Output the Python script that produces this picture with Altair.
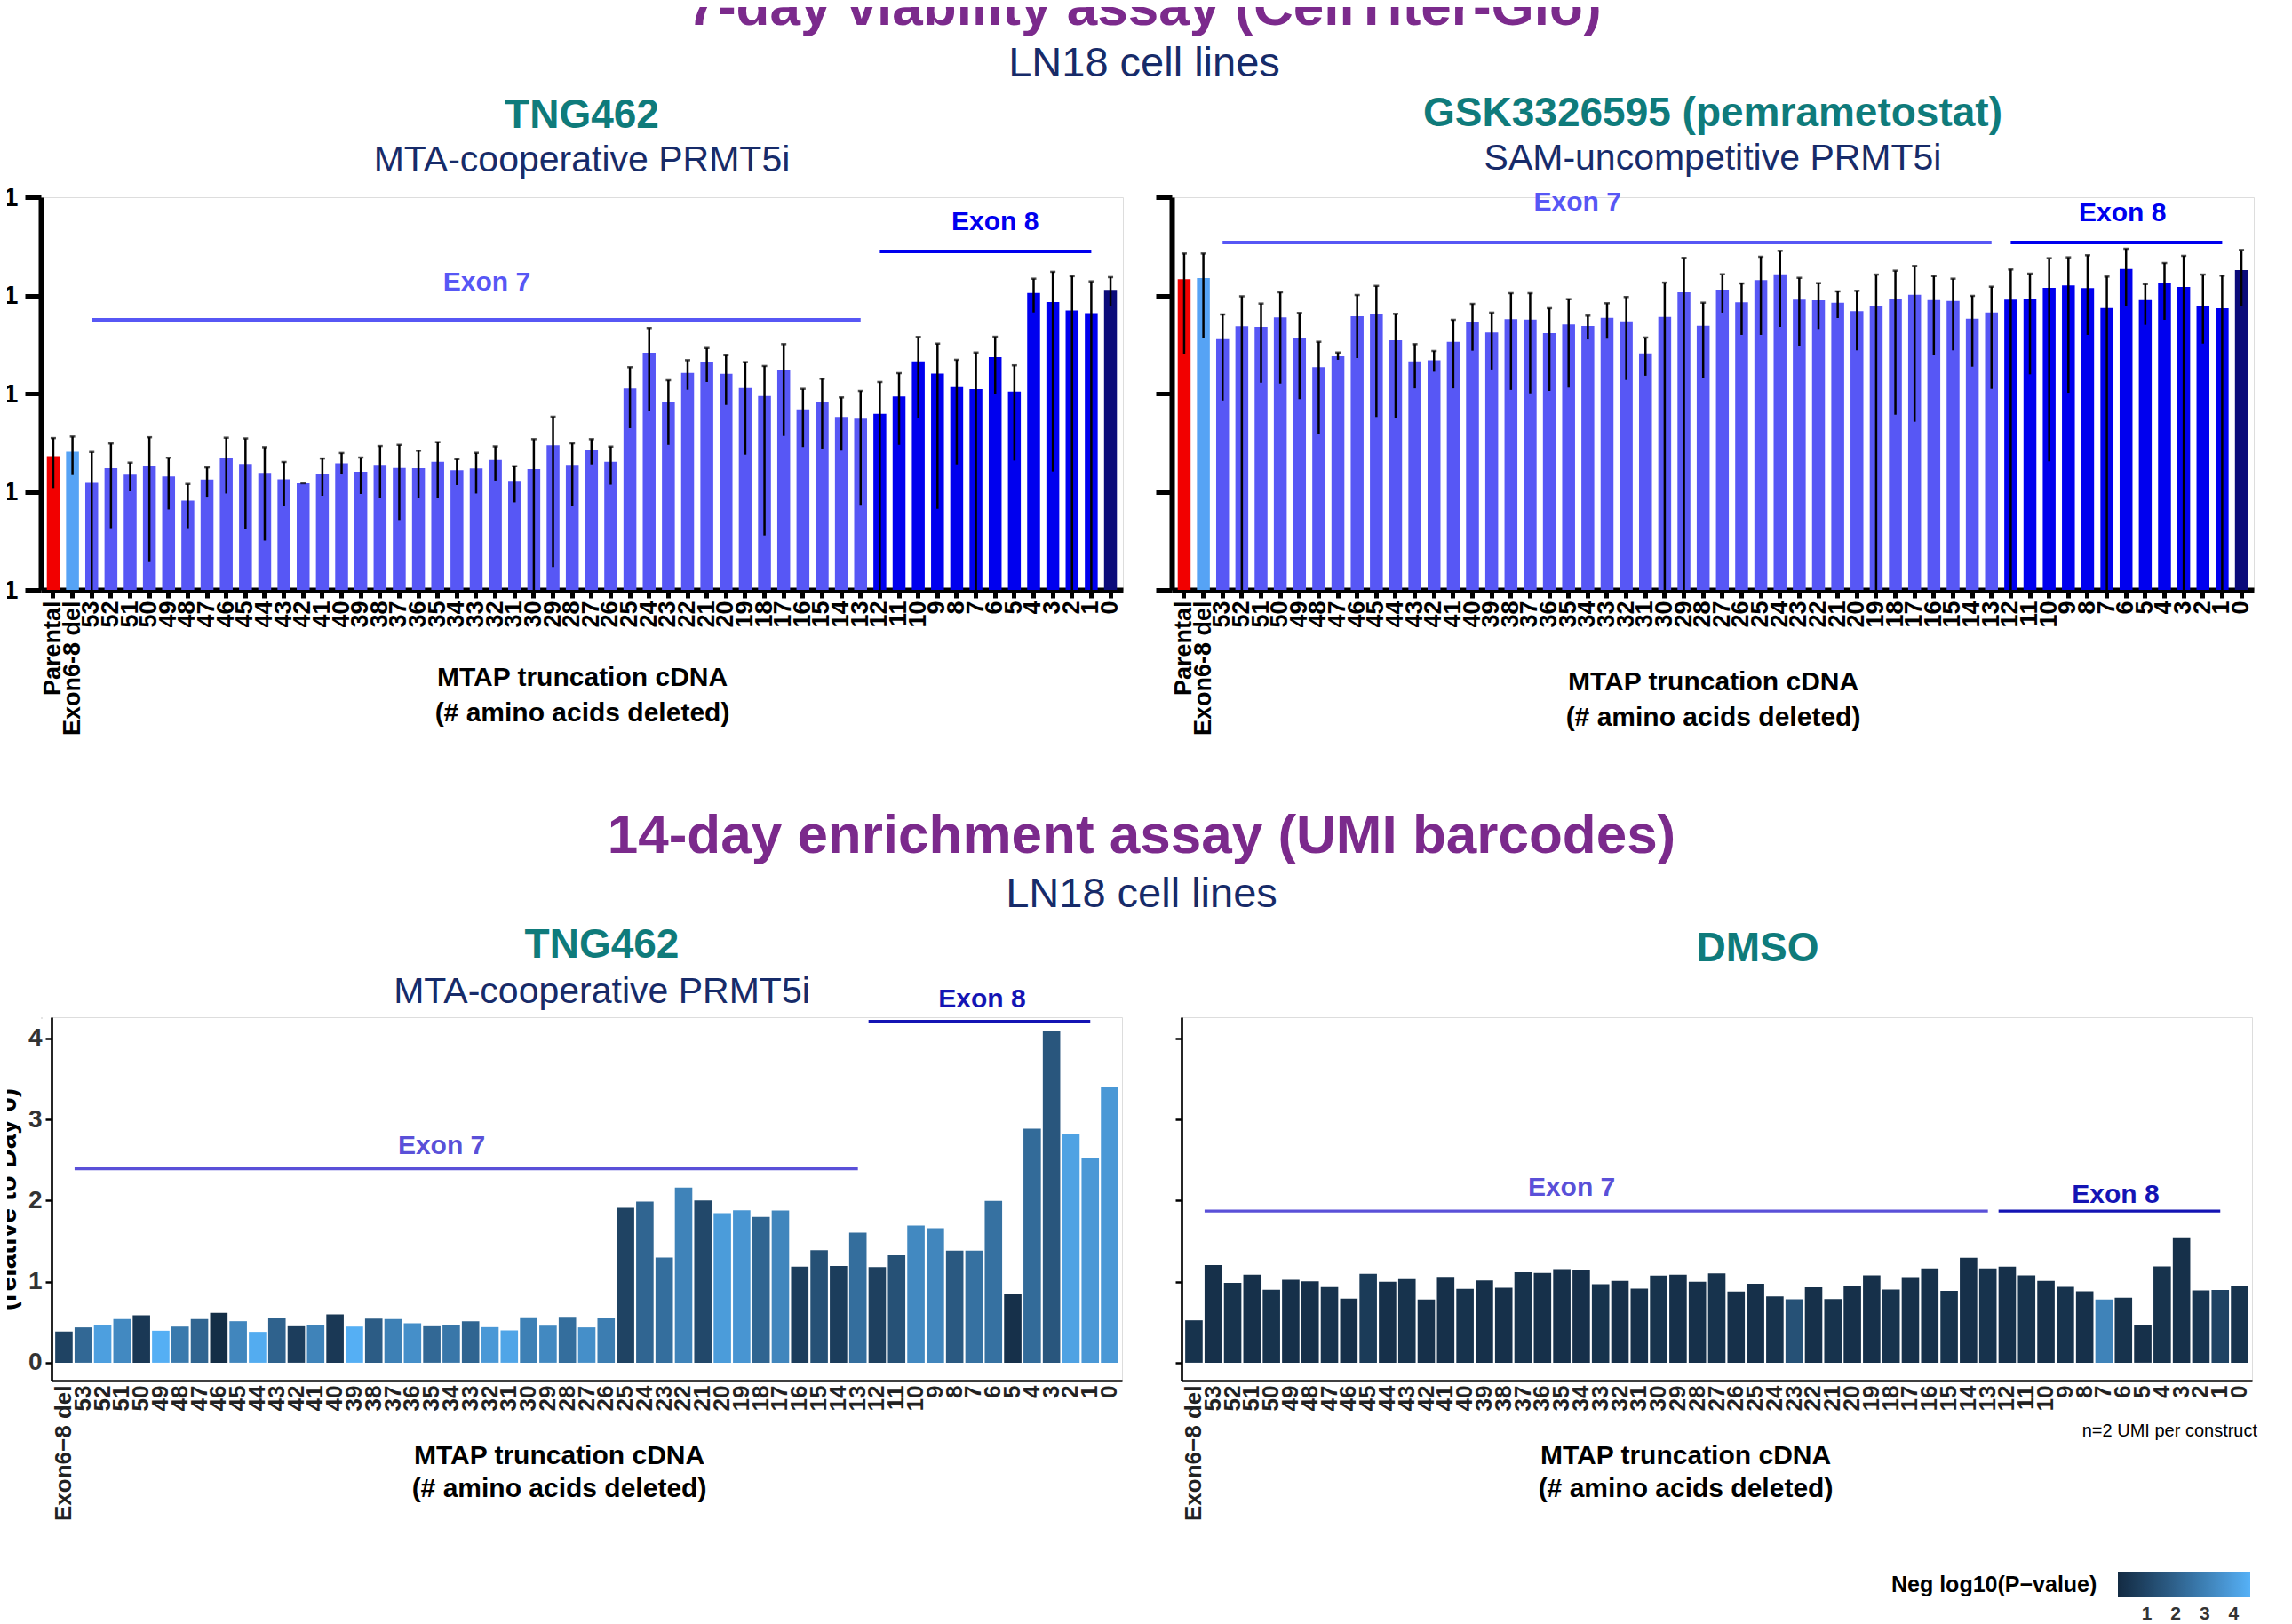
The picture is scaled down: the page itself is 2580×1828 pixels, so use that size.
import altair as alt
import pandas as pd

FONT = "Liberation Sans, Arial, Helvetica, sans-serif"
PURPLE = "#7b2a8c"
NAVY = "#172b69"
TEAL = "#0f7b7b"

# ---------------- categories ----------------
top_categories = ["Parental", "Exon6-8 del"] + [str(n) for n in range(53, -1, -1)]
top_groups = ["Parental", "Exon6-8 del"] + ["Exon 7"] * 41 + ["Exon 8"] * 12 + ["Full-length"]
bot_categories = ["Exon6\u22128 del"] + [str(n) for n in range(53, -1, -1)]

# ---------------- 7-day viability (log scale) ----------------
tng_val = [0.0023, 0.00256,
           0.00123, 0.00174, 0.00149, 0.00185, 0.00143, 0.00081, 0.00133, 0.00222, 0.00192, 0.00156, 0.00134, 0.00122, 0.00153, 0.00195,
           0.0016, 0.00188, 0.00175, 0.00174, 0.00202, 0.00166, 0.00173, 0.00211, 0.00129, 0.0017, 0.00297, 0.00188, 0.00265, 0.00202,
           0.01126, 0.0261, 0.00824, 0.01626, 0.0209, 0.0159, 0.0114, 0.00945, 0.0174, 0.00692, 0.00829, 0.00578, 0.00554,
           0.00624, 0.00933, 0.0213, 0.016, 0.01164, 0.0111, 0.0235, 0.0105, 0.106, 0.0855, 0.070, 0.0658, 0.1138]
tng_hi = [0.00352, 0.00365,
          0.00254, 0.0031, 0.00198, 0.00359, 0.00222, 0.0012, 0.00177, 0.00355, 0.00349, 0.00284, 0.00201, 0.00122, 0.00218, 0.00248,
          0.00223, 0.00292, 0.0030, 0.00262, 0.0032, 0.00215, 0.00249, 0.0029, 0.00182, 0.00343, 0.00582, 0.00311, 0.00343, 0.00288,
          0.01857, 0.0465, 0.01367, 0.0219, 0.0291, 0.0246, 0.0209, 0.0191, 0.0319, 0.01117, 0.01416, 0.00914, 0.01064,
          0.01312, 0.01615, 0.0377, 0.0323, 0.0221, 0.0262, 0.0379, 0.0194, 0.148, 0.174, 0.157, 0.139, 0.1534]
tng_lo = [0.00109, 0.00148,
          0.0001, 0.000425, 0.00101, 0.000192, 0.00066, 0.000425, 0.00089, 0.00096, 0.00042, 0.000318, 0.00072, 0.00122, 0.00091, 0.0015,
          0.00095, 0.00087, 0.000515, 0.00087, 0.00087, 0.00117, 0.00096, 0.0013, 0.00078, 0.0001, 0.000171, 0.00072, 0.0019, 0.00118,
          0.00444, 0.00659, 0.0030, 0.01094, 0.01312, 0.00767, 0.00239, 0.000359, 0.0037, 0.00285, 0.00275, 0.00262, 0.000735,
          0.0001, 0.0030, 0.00561, 0.00067, 0.0019, 0.0001, 0.0098, 0.00208, 0.067, 0.00161, 0.0001, 0.0001, 0.0771]

gsk_val = [0.146, 0.150,
           0.0359, 0.0484, 0.0477, 0.0596, 0.0369, 0.0186, 0.024, 0.0613, 0.0648, 0.0349, 0.0213, 0.0218, 0.0337, 0.054,
           0.0418, 0.0572, 0.0568, 0.0412, 0.0505, 0.0487, 0.0591, 0.0544, 0.0257, 0.0604, 0.1076, 0.0491, 0.1146, 0.0850,
           0.143, 0.164, 0.0904, 0.0892, 0.0843, 0.069, 0.0776, 0.0916, 0.1017, 0.0898, 0.0879, 0.0579, 0.067,
           0.0904, 0.0910, 0.1194, 0.1262, 0.1186, 0.0744, 0.186, 0.0898, 0.134, 0.122, 0.0782, 0.074, 0.181]
gsk_hi = [0.267, 0.267,
          0.0639, 0.098, 0.0826, 0.1076, 0.0662, 0.0337, 0.0262, 0.101, 0.125, 0.0648, 0.0319, 0.0272, 0.0564, 0.082,
          0.0667, 0.1054, 0.1054, 0.074, 0.0916, 0.0622, 0.0832, 0.0964, 0.0372, 0.135, 0.241, 0.0843, 0.164, 0.1324,
          0.2476, 0.2845, 0.151, 0.1333, 0.110, 0.1114, 0.163, 0.1786, 0.1997, 0.1575, 0.148, 0.099, 0.1227,
          0.1837, 0.1666, 0.2391, 0.2442, 0.2565, 0.1555, 0.2986, 0.1306, 0.2139, 0.2529, 0.163, 0.159, 0.290]
gsk_lo = [0.0254, 0.0364,
          0.0085, 0.0001, 0.0129, 0.01265, 0.00877, 0.0039, 0.0221, 0.023, 0.00578, 0.00566, 0.0113, 0.0167, 0.0113, 0.0274,
          0.0176, 0.0109, 0.01006, 0.01064, 0.0115, 0.0356, 0.0362, 0.01375, 0.0152, 0.0001, 0.0001, 0.01435, 0.0667, 0.0396,
          0.0396, 0.0477, 0.0302, 0.0455, 0.0588, 0.0276, 0.0001, 0.0061, 0.00517, 0.0245, 0.0276, 0.0188, 0.01117,
          0.0001, 0.0157, 0.00204, 0.0102, 0.0396, 0.0001, 0.0782, 0.0501, 0.0564, 0.0001, 0.0323, 0.0001, 0.0782]

# ---------------- 14-day enrichment ----------------
tng_fold = [0.384,
            0.436, 0.468, 0.538, 0.586, 0.395, 0.446, 0.538, 0.615, 0.512, 0.381, 0.549, 0.450, 0.468, 0.597,
            0.446, 0.545, 0.538, 0.487, 0.450, 0.468, 0.512, 0.439, 0.399, 0.560, 0.457, 0.567, 0.436, 0.553,
            1.910, 1.987, 1.296, 2.159, 2.002, 1.844, 1.881, 1.797, 1.877, 1.186, 1.387, 1.193, 1.603,
            1.178, 1.325, 1.691, 1.658, 1.383, 1.383, 1.995, 0.853, 2.884, 4.084, 2.822, 2.518, 3.400]
tng_nlp = [0.9,
           2.2, 4.0, 3.3, 0.5, 4.5, 2.8, 2.1, 0.1, 3.2, 4.4, 2.0, 0.7, 3.1, 0.5,
           4.5, 1.8, 3.0, 3.5, 2.2, 2.7, 2.1, 3.8, 4.2, 3.0, 3.3, 2.4, 3.5, 2.9,
           0.9, 2.1, 2.4, 3.1, 1.1, 3.9, 3.7, 2.1, 3.2, 0.7, 1.4, 0.7, 2.4,
           0.8, 1.4, 3.3, 3.2, 1.7, 2.5, 2.5, 0.2, 2.3, 1.6, 4.1, 3.8, 3.8]
dmso_fold = [0.523,
             1.203, 0.984, 1.086, 0.899, 1.024, 1.005, 0.932, 0.790, 1.097, 0.998, 1.031, 0.779, 1.060, 0.910,
             1.016, 0.925, 1.115, 1.108, 1.155, 1.137, 0.969, 1.009, 0.914, 1.075, 1.086, 0.998, 1.104, 0.878,
             0.973, 0.819, 0.782, 0.929, 0.786, 0.947, 1.079, 0.903, 1.057, 1.163, 0.885, 1.294, 1.163,
             1.185, 1.079, 1.009, 0.936, 0.881, 0.779, 0.801, 0.461, 1.188, 1.547, 0.892, 0.896, 0.951]
dmso_nlp = [0.3,
            0.2, 0.3, 0.2, 0.3, 0.2, 0.2, 0.3, 0.2, 0.6, 0.2, 0.3, 0.2, 0.2, 0.3,
            0.2, 0.2, 0.3, 0.2, 0.2, 0.2, 0.3, 0.2, 0.2, 0.3, 0.2, 0.2, 0.3, 0.2,
            0.2, 0.3, 1.4, 0.2, 0.3, 0.2, 0.2, 0.3, 0.2, 0.2, 0.3, 0.2, 0.3,
            0.2, 0.3, 0.2, 0.3, 0.2, 3.1, 0.3, 0.2, 0.3, 0.2, 0.4, 0.9, 0.3]

# ---------------- exon annotations (data coordinates) ----------------
tl_exons = [dict(label="Exon 7", start="53", end="13", line_y=0.0564, text_cat="33", text_y=0.135, dx=12, color="#5757f5"),
            dict(label="Exon 8", start="12", end="1", line_y=0.281, text_cat="6", text_y=0.558, dx=0, color="#0000ee")]
tr_exons = [dict(label="Exon 7", start="53", end="13", line_y=0.345, text_cat="35", text_y=0.88, dx=10, color="#5757f5"),
            dict(label="Exon 8", start="12", end="1", line_y=0.345, text_cat="6", text_y=0.687, dx=-4, color="#0000ee")]
bl_exons = [dict(label="Exon 7", start="53", end="13", line_y=2.39, text_cat="35", text_y=2.67, dx=11, color="#5a50d8"),
            dict(label="Exon 8", start="12", end="1", line_y=4.21, text_cat="7", text_y=4.48, dx=9, color="#1414b4")]
br_exons = [dict(label="Exon 7", start="53", end="13", line_y=1.87, text_cat="35", text_y=2.16, dx=11, color="#5a50d8"),
            dict(label="Exon 8", start="12", end="1", line_y=1.87, text_cat="7", text_y=2.07, dx=13, color="#1414b4")]

TOP_W, TOP_H = 1218, 442
BOT_W, BOT_H = 1205, 409

top_color = alt.Scale(domain=["Parental", "Exon6-8 del", "Exon 7", "Exon 8", "Full-length"],
                      range=["#f20000", "#56a3f5", "#5757f5", "#0000ee", "#0b0b7a"])
nlp_scale = alt.Scale(domain=[0, 4.57], range=["#132B43", "#56B1F7"], interpolate="lab")


def annot_layers(exons, xscale, xaxis, yscale, yaxis, line_w, start_band):
    layers = []
    for e in exons:
        d = pd.DataFrame([e])
        layers.append(alt.Chart(d).mark_rule(strokeWidth=line_w, color=e["color"]).encode(
            x=alt.X("start:N", scale=xscale, axis=xaxis, bandPosition=start_band),
            x2=alt.X2("end", bandPosition=0.5),
            y=alt.Y("line_y:Q", scale=yscale, axis=yaxis)))
        layers.append(alt.Chart(d).mark_text(font=FONT, fontSize=30, fontWeight="bold", color=e["color"],
                                             dx=e["dx"], baseline="middle", align="center").encode(
            x=alt.X("text_cat:N", scale=xscale, axis=xaxis),
            y=alt.Y("text_y:Q", scale=yscale, axis=yaxis),
            text="label:N"))
    return layers


def top_panel(vals, his, los, exons, title, subtitle, show_labels, t_offset, xtitle_y):
    df = pd.DataFrame({"cat": top_categories, "val": vals, "hi": his, "lo": los, "grp": top_groups})
    xscale = alt.Scale(domain=top_categories, paddingInner=0.33, paddingOuter=0.31)
    xaxis = alt.Axis(title=["MTAP truncation cDNA", "(# amino acids deleted)"], labelAngle=-90,
                     labelFont=FONT, labelFontSize=27, labelFontWeight="bold", labelColor="black",
                     labelPadding=3, labelOverlap=False, tickSize=9, tickWidth=5, tickColor="black",
                     domainColor="black", domainWidth=6, titleFont=FONT, titleFontSize=30,
                     titleFontWeight="bold", titleColor="black", titleX=TOP_W / 2, titleY=xtitle_y,
                     titleBaseline="alphabetic", titleLineHeight=40, titleAlign="center")
    yscale = alt.Scale(type="log", domain=[0.0001, 1], nice=False)
    yaxis = alt.Axis(values=[0.0001, 0.001, 0.01, 0.1, 1], format="~g", title=None, grid=False,
                     labels=show_labels, labelFont=FONT, labelFontSize=30, labelFontWeight="bold",
                     labelColor="black", labelPadding=8, tickSize=18, tickWidth=5, tickColor="black",
                     domainColor="black", domainWidth=6)
    bars = alt.Chart(df).mark_bar().encode(
        x=alt.X("cat:N", scale=xscale, axis=xaxis),
        y=alt.Y("val:Q", scale=yscale, axis=yaxis),
        y2=alt.datum(0.0001),
        color=alt.Color("grp:N", scale=top_color, legend=None))
    err = alt.Chart(df).mark_rule(color="black", strokeWidth=2.5, clip=True).encode(
        x=alt.X("cat:N", scale=xscale, axis=xaxis),
        y=alt.Y("lo:Q", scale=yscale, axis=yaxis), y2="hi:Q")
    cap_hi = alt.Chart(df).mark_tick(color="black", thickness=2.5, size=6).encode(
        x=alt.X("cat:N", scale=xscale, axis=xaxis), y=alt.Y("hi:Q", scale=yscale, axis=yaxis))
    layers = [bars, err, cap_hi] + annot_layers(exons, xscale, xaxis, yscale, yaxis, 4, 0.5)
    return alt.layer(*layers).properties(
        width=TOP_W, height=TOP_H,
        title=alt.TitleParams(text=title, subtitle=subtitle, font=FONT, fontSize=46, fontWeight="bold",
                              color=TEAL, subtitleFont=FONT, subtitleFontSize=41,
                              subtitleFontWeight="normal", subtitleColor=NAVY, anchor="middle",
                              frame="group", offset=t_offset, subtitlePadding=7))


def bottom_panel(folds, nlps, exons, title, subtitle, title_dx, t_offset, xtitle_x, show_labels, legend, note):
    df = pd.DataFrame({"cat": bot_categories, "fold": folds, "nlp": nlps})
    xscale = alt.Scale(domain=bot_categories, paddingInner=0.1, paddingOuter=0.19)
    xaxis = alt.Axis(title=["MTAP truncation cDNA", "(# amino acids deleted)"], labelAngle=-90,
                     labelFont=FONT, labelFontSize=26, labelFontWeight="bold", labelColor="#222222",
                     labelPadding=5, labelOverlap=False, ticks=False, domainColor="black",
                     domainWidth=2.7, titleFont=FONT, titleFontSize=30, titleFontWeight="bold",
                     titleColor="black", titleX=xtitle_x, titleY=93, titleBaseline="alphabetic",
                     titleLineHeight=37, titleAlign="center")
    yscale = alt.Scale(domain=[-0.22, 4.26], nice=False, zero=False)
    yaxis = alt.Axis(values=[0, 1, 2, 3, 4], grid=False, labels=show_labels, labelFont=FONT,
                     labelFontSize=28, labelFontWeight="bold", labelColor="#333333", labelPadding=4,
                     tickSize=7, tickWidth=2.5, tickColor="black", domainColor="black", domainWidth=2.7,
                     title="(relative to Day 0)" if show_labels else None, titleFont=FONT,
                     titleFontSize=30, titleFontWeight="bold", titleColor="black", titleX=-50,
                     titleY=BOT_H / 2, titleAlign="center", titleBaseline="middle")
    bars = alt.Chart(df).mark_bar().encode(
        x=alt.X("cat:N", scale=xscale, axis=xaxis),
        y=alt.Y("fold:Q", scale=yscale, axis=yaxis),
        y2=alt.datum(0),
        color=alt.Color("nlp:Q", scale=nlp_scale, legend=legend))
    layers = [bars] + annot_layers(exons, xscale, xaxis, yscale, yaxis, 3.3, 0)
    if note:
        nd = pd.DataFrame({"cat": ["0"], "y": [-0.845], "t": [note]})
        layers.append(alt.Chart(nd).mark_text(font=FONT, fontSize=20, color="black", align="right",
                                              baseline="middle", dx=20).encode(
            x=alt.X("cat:N", scale=xscale, axis=xaxis), y=alt.Y("y:Q", scale=yscale, axis=yaxis),
            text="t:N"))
    tp = dict(text=title, font=FONT, fontSize=46, fontWeight="bold", color=TEAL, anchor="middle",
              frame="group", offset=t_offset, dx=title_dx)
    if subtitle:
        tp.update(subtitle=subtitle, subtitleFont=FONT, subtitleFontSize=41, subtitleFontWeight="normal",
                  subtitleColor=NAVY, subtitlePadding=9)
    return alt.layer(*layers).properties(width=BOT_W, height=BOT_H, title=alt.TitleParams(**tp))


tl = top_panel(tng_val, tng_hi, tng_lo, tl_exons, "TNG462", "MTA-cooperative PRMT5i", True, 5, 107)
tr = top_panel(gsk_val, gsk_hi, gsk_lo, tr_exons, "GSK3326595 (pemrametostat)", "SAM-uncompetitive PRMT5i",
               False, 13, 112)

legend = alt.Legend(title="Neg log10(P\u2212value)", orient="none", legendX=799, legendY=624,
                    direction="horizontal", titleOrient="left", gradientLength=149, gradientThickness=29,
                    values=[1, 2, 3, 4], labelFont=FONT, labelFontSize=21, labelFontWeight="bold",
                    labelColor="#333333", labelOffset=8, titleFont=FONT, titleFontSize=25,
                    titleFontWeight="bold", titleColor="black", titlePadding=23, titleLimit=400,
                    gradientStrokeWidth=0, padding=0)
bl = bottom_panel(tng_fold, tng_nlp, bl_exons, "TNG462", "MTA-cooperative PRMT5i", 17, -28, 571, True, None, None)
br = bottom_panel(dmso_fold, dmso_nlp, br_exons, "DMSO", None, 46, 53, 567, False, legend, "n=2 UMI per construct")

spacer = alt.Chart(pd.DataFrame({"s": [0]})).mark_point(opacity=0).encode(
    x=alt.value(0), y=alt.value(0)).properties(width=1, height=1)


def section_title(text, dx, offset, sub_pad):
    return alt.TitleParams(text=text, subtitle="LN18 cell lines", font=FONT, fontSize=62, fontWeight="bold",
                           color=PURPLE, subtitleFont=FONT, subtitleFontSize=47, subtitleColor=NAVY,
                           subtitleFontWeight="normal", anchor="start", align="center", dx=dx,
                           frame="group", offset=offset, subtitlePadding=sub_pad)


top_row = alt.hconcat(tl, tr, spacing=55, bounds="flush",
                      title=section_title("7-day viability assay (CellTiter-Glo)", 1242, 9, 8))
bottom_pair = alt.hconcat(bl, br, spacing=67, bounds="flush").resolve_scale(color="independent")
bottom_row = alt.hconcat(spacer, bottom_pair, spacing=11, bounds="flush",
                         title=section_title("14-day enrichment assay (UMI barcodes)", 1239, 9, 11))

chart = alt.vconcat(top_row, bottom_row, spacing=923, bounds="flush").properties(
    padding={"left": -81, "top": -31, "right": 0, "bottom": 0}
).configure_view(strokeWidth=0).configure(background="white")

chart.save("out.html", embed_options={"renderer": "svg", "actions": False})
